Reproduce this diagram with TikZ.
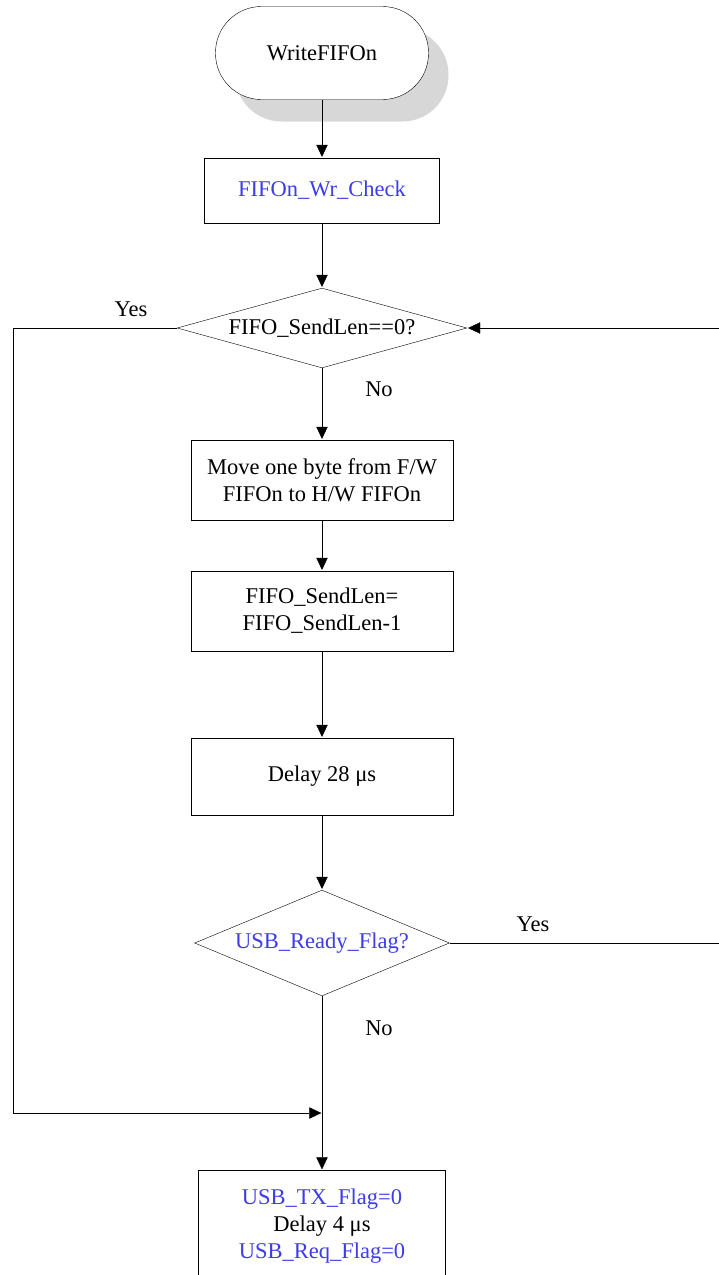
\documentclass[tikz,border=0pt]{standalone}
\usepackage{fontspec}
\setmainfont{Liberation Serif}
\usetikzlibrary{shapes.geometric,arrows.meta}
\definecolor{flagblue}{RGB}{60,60,235}
\definecolor{shadowgray}{RGB}{215,215,215}

\begin{document}
\begin{tikzpicture}[x=1pt,y=-1pt]
      \tikzset{
        font=\fontsize{22.5}{27}\selectfont,
        line width=0.9pt,
        >={Triangle[length=13pt,width=12pt]},
        term/.style={rectangle,rounded corners=46pt,draw,fill=white,minimum width=213pt,minimum height=93pt},
        termshadow/.style={rectangle,rounded corners=46pt,fill=shadowgray,minimum width=213pt,minimum height=93pt},
        proc/.style={rectangle,draw,align=center,inner sep=0pt},
        decide/.style={diamond,draw,inner sep=0pt},
        flag/.style={text=flagblue},
        note/.style={inner sep=0pt}
      }
      \useasboundingbox (0,0) rectangle (719,1275);
      \clip (0,0) rectangle (719,1275);

      \node[termshadow] (startshadow) at (342,75) {};
      \node[term] (start) at (322,53) {WriteFIFOn};
      \node[proc,flag,minimum width=235pt,minimum height=65pt] (check) at (322,190.5) {FIFOn\_Wr\_Check};
      \node[decide,shape aspect=3.6,minimum width=290pt,minimum height=80pt] (lenzero) at (322,328) {FIFO\_SendLen==0?};
      \node[proc,minimum width=262pt,minimum height=80pt] (move) at (322,480) {Move one byte from F/W\\FIFOn to H/W FIFOn};
      \node[proc,minimum width=262pt,minimum height=80pt] (dec) at (322,611) {FIFO\_SendLen=\\FIFO\_SendLen-1};
      \node[proc,minimum width=262pt,minimum height=77pt] (delay) at (322,776.5) {Delay 28 μs};
      \node[decide,flag,shape aspect=2.4,minimum width=255pt,minimum height=106pt] (ready) at (322,943) {USB\_Ready\_Flag?};
      \node[proc,minimum width=247pt,minimum height=150pt,anchor=north] (clear) at (322,1170) {};
      \node[note,align=center,anchor=north] (cleartext) at (322,1188)
        {\textcolor{flagblue}{USB\_TX\_Flag=0}\\Delay 4 μs\\\textcolor{flagblue}{USB\_Req\_Flag=0}};

      \node[note] (yesleft) at (131,309) {Yes};
      \node[note] (noleft) at (379,389) {No};
      \node[note] (yesright) at (533,924) {Yes};
      \node[note] (nobottom) at (379,1028) {No};

      \coordinate (lcorner) at (13,1113);
      \coordinate (join) at (322,1113);
      \coordinate (rtop) at (719,328);
      \coordinate (rbot) at (719,943);

      \draw[->] (start) edge (check)
            (check) edge (lenzero)
            (lenzero) edge (move)
            (move) edge (dec)
            (dec) edge (delay)
            (delay) edge (ready);
      \draw[->] (ready) -- (clear);
      \draw[->] (lenzero.west) -| (lcorner) -- (join);
      \draw (ready.east) -- (rbot);
      \draw[->] (rtop) -- (lenzero.east);
    \end{tikzpicture}
\end{document}
